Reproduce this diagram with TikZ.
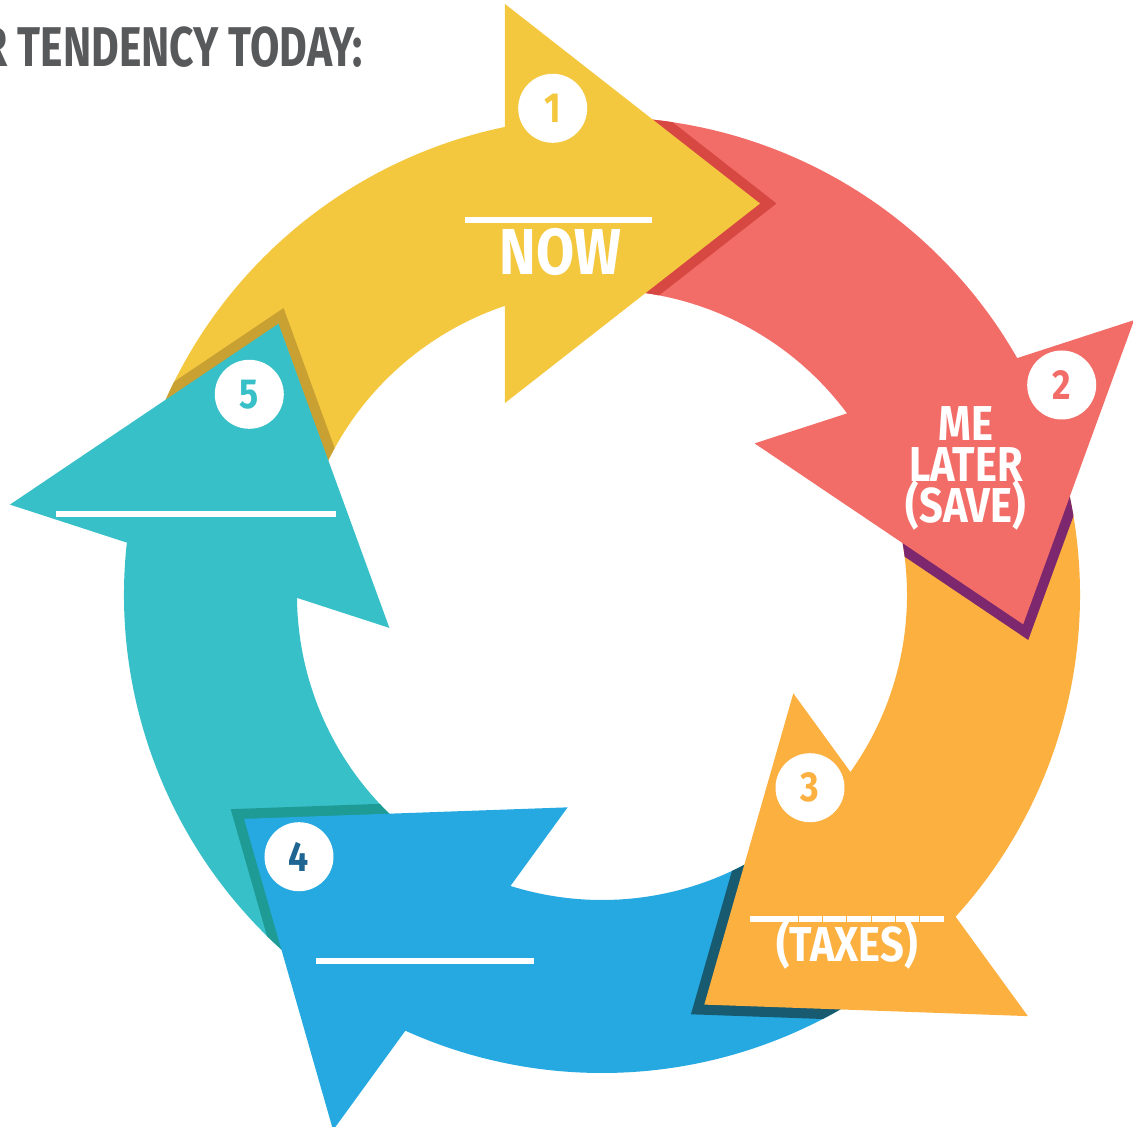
\documentclass[tikz,border=0pt]{standalone}
\usepackage{fontspec}
\newfontfamily\condfont{Fira Sans}[FakeStretch=0.85]
\newfontfamily\titlefont{Fira Sans}[FakeStretch=0.76]
\definecolor{cyellow}{HTML}{F3C83F}
\definecolor{cred}{HTML}{F26D67}
\definecolor{corange}{HTML}{FBB040}
\definecolor{cblue}{HTML}{25A9E0}
\definecolor{cteal}{HTML}{38C0C8}
\definecolor{syellow}{HTML}{C9A032}
\definecolor{sred}{HTML}{D84843}
\definecolor{sorange}{HTML}{7D286E}
\definecolor{sblue}{HTML}{185A6F}
\definecolor{steal}{HTML}{1E9B95}
\definecolor{cnum}{HTML}{1E6591}
\definecolor{tgray}{HTML}{58595B}
\tikzset{
  numcirc/.style={circle, fill=white, minimum size=69pt, inner sep=0pt,
    font=\condfont\bfseries\fontsize{42}{42}\selectfont},
  lbl/.style={text=white, inner sep=0pt, anchor=base, text height=34pt, text depth=5pt,
    font=\condfont\bfseries\fontsize{49}{49}\selectfont},
  wline/.style={draw=white, line width=6pt},
}
\begin{document}
\begin{tikzpicture}[x=1pt,y=1pt]
\useasboundingbox (-602,-532) rectangle (531,595);
\clip (-602,-532) rectangle (531,595);
% bodies
\foreach \k/\col in {0/cyellow,1/cred,2/corange,3/cblue,4/cteal}{
  \fill[\col, rotate=-72*\k] (90:478) arc[start angle=90,end angle=160,radius=478]
    -- (160:305) arc[start angle=160,end angle=90,radius=305] -- cycle;
}
% shadows of the heads on the next band
\foreach \k/\col in {0/sred,1/sorange,2/sblue,3/steal,4/syellow}{
  \begin{scope}[rotate=-72*\k, even odd rule]
    \clip (0,0) circle[radius=478] (0,0) circle[radius=305];
    \fill[\col] (-80.5,192) -- (-80.5,591) -- (174.5,391.5) -- cycle;
  \end{scope}
}
% heads
\foreach \k/\col in {0/cyellow,1/cred,2/corange,3/cblue,4/cteal}{
  \fill[\col, rotate=-72*\k] (-97,192) -- (-97,591) -- (158,391.5) -- cycle;
}
% number badges
\node[numcirc, text=cyellow] (n1) at (-49.3,486.7) {1};
\node[numcirc, text=cred] (n2) at (459.7,210) {2};
\node[numcirc, text=corange] (n3) at (208,-192.7) {3};
\node[numcirc, text=cnum] (n4) at (-303,-261.7) {4};
\node[numcirc, text=cteal] (n5) at (-352.7,200.7) {5};
% labels and blanks
\draw[wline] (-137,375.3) -- (50,375.3);
\node[lbl, text height=46pt, font=\condfont\bfseries\fontsize{65}{65}\selectfont] (now) at (-41.5,320) {NOW};
\node[lbl] (me) at (364,154) {ME};
\node[lbl] (later) at (364,113) {LATER};
\node[lbl] (save) at (364,72) {(SAVE)};
\draw[wline, dash pattern=on 23.5pt off 0.8pt] (148,-324) -- (342,-324);
\node[lbl] (taxes) at (245,-366) {(TAXES)};
\draw[wline] (-286,-366) -- (-68,-366);
\draw[wline] (-546,81) -- (-266,81);
% title
\node[anchor=base east, text=tgray, inner sep=0pt,
  font=\titlefont\bfseries\fontsize{56}{56}\selectfont] (title) at (-239,528.3) {R TENDENCY TODAY:};
\end{tikzpicture}
\end{document}
